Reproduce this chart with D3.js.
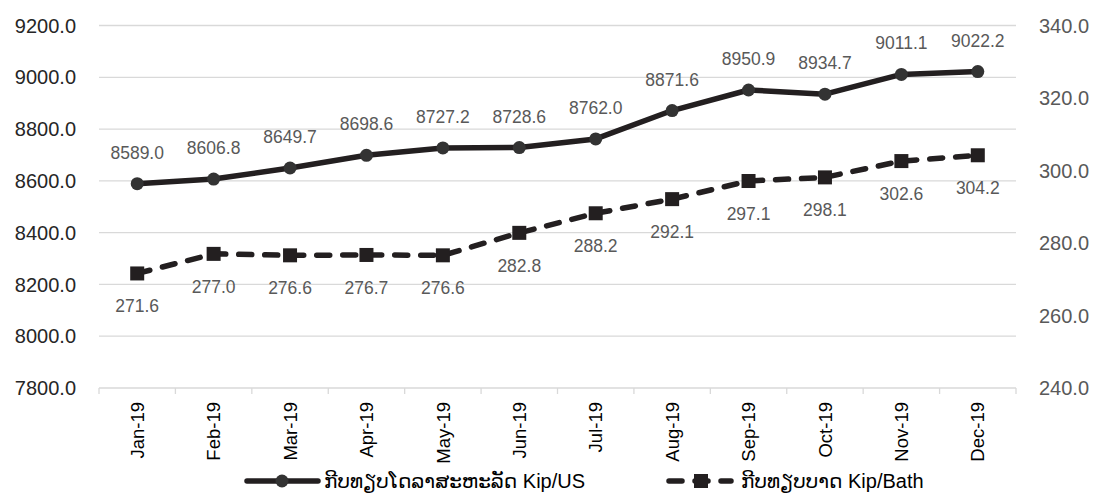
<!DOCTYPE html>
<html lang="lo">
<head>
<meta charset="utf-8">
<script src="https://d3js.org/d3.v7.min.js"></script>
<style>
  body { margin: 0; background: #fff; }
  svg text { font-family: "Liberation Sans", Arial, "DejaVu Sans", sans-serif; }
  .grid line { stroke: #d9d9d9; stroke-width: 1.3; }
</style>
</head>
<body>
<svg id="chart" width="1097" height="495"></svg>
<script>
// data
const months = ["Jan-19","Feb-19","Mar-19","Apr-19","May-19","Jun-19","Jul-19","Aug-19","Sep-19","Oct-19","Nov-19","Dec-19"];
const kipUS = [8589.0, 8606.8, 8649.7, 8698.6, 8727.2, 8728.6, 8762.0, 8871.6, 8950.9, 8934.7, 9011.1, 9022.2];
const kipBath = [271.6, 277.0, 276.6, 276.7, 276.6, 282.8, 288.2, 292.1, 297.1, 298.1, 302.6, 304.2];
const leftTicks = [7800, 8000, 8200, 8400, 8600, 8800, 9000, 9200];
const rightTicks = [240, 260, 280, 300, 320, 340];
const legendNames = ["ກີບທຽບໂດລາສະຫະລັດ Kip/US", "ກີບທຽບບາດ Kip/Bath"];

const svg = d3.select("#chart");
const ink = "#231f20";
const plotL = 99, plotR = 1016, plotT = 25.5, plotB = 388;

const x = d3.scaleBand().domain(months).range([plotL, plotR]);
const yL = d3.scaleLinear().domain([7800, 9200]).range([plotB, plotT]);
const yR = d3.scaleLinear().domain([240, 340]).range([plotB, plotT]);
const cx = d => x(d) + x.bandwidth() / 2;

// gridlines
svg.append("g").attr("class", "grid")
  .selectAll("line").data(leftTicks).enter().append("line")
  .attr("x1", plotL).attr("x2", plotR)
  .attr("y1", d => yL(d)).attr("y2", d => yL(d));

// bottom axis tick marks
const tickX = months.map(m => x(m)).concat([plotR]);
svg.append("g").selectAll("line").data(tickX).enter().append("line")
  .attr("x1", d => d).attr("x2", d => d)
  .attr("y1", plotB).attr("y2", plotB + 6)
  .attr("stroke", "#d9d9d9").attr("stroke-width", 1.3);

// left axis labels
svg.append("g").selectAll("text").data(leftTicks).enter().append("text")
  .attr("x", 76).attr("y", d => yL(d)).attr("dy", "0.36em")
  .attr("text-anchor", "end").attr("font-size", 20).attr("fill", "#262626")
  .text(d => d.toFixed(1));

// right axis labels
svg.append("g").selectAll("text").data(rightTicks).enter().append("text")
  .attr("x", 1039).attr("y", d => yR(d)).attr("dy", "0.36em")
  .attr("text-anchor", "start").attr("font-size", 20).attr("fill", "#595959")
  .text(d => d.toFixed(1));

// x labels
svg.append("g").selectAll("text").data(months).enter().append("text")
  .attr("transform", d => `translate(${cx(d)},${plotB + 14}) rotate(-90)`)
  .attr("dy", "0.36em").attr("text-anchor", "end")
  .attr("font-size", 18.5).attr("fill", "#000")
  .text(d => d);

// Kip/US line
const lineUS = d3.line().x((d, i) => cx(months[i])).y(d => yL(d));
svg.append("path").datum(kipUS)
  .attr("d", lineUS).attr("fill", "none")
  .attr("stroke", ink).attr("stroke-width", 5.5).attr("stroke-linejoin", "round");
svg.append("g").selectAll("circle").data(kipUS).enter().append("circle")
  .attr("cx", (d, i) => cx(months[i])).attr("cy", d => yL(d)).attr("r", 6.5)
  .attr("fill", "#333");

// Kip/Bath line
const lineB = d3.line().x((d, i) => cx(months[i])).y(d => yR(d));
svg.append("path").datum(kipBath)
  .attr("d", lineB).attr("fill", "none")
  .attr("stroke", ink).attr("stroke-width", 5.5)
  .attr("stroke-dasharray", "13,13").attr("stroke-linecap", "round");
svg.append("g").selectAll("rect").data(kipBath).enter().append("rect")
  .attr("x", (d, i) => cx(months[i]) - 7).attr("y", d => yR(d) - 7)
  .attr("width", 14).attr("height", 14).attr("fill", ink);

// data labels
svg.append("g").selectAll("text").data(kipUS).enter().append("text")
  .attr("x", (d, i) => cx(months[i])).attr("y", d => yL(d) - 25)
  .attr("text-anchor", "middle").attr("font-size", 17.5).attr("fill", "#595959")
  .text(d => d.toFixed(1));
svg.append("g").selectAll("text").data(kipBath).enter().append("text")
  .attr("x", (d, i) => cx(months[i])).attr("y", d => yR(d) + 39)
  .attr("text-anchor", "middle").attr("font-size", 17.5).attr("fill", "#595959")
  .text(d => d.toFixed(1));

// legend
const ly = 481;
const lg1 = svg.append("g");
lg1.append("line").attr("x1", 247).attr("x2", 318).attr("y1", ly).attr("y2", ly)
  .attr("stroke", ink).attr("stroke-width", 5.5).attr("stroke-linecap", "round");
lg1.append("circle").attr("cx", 282).attr("cy", ly).attr("r", 6.5).attr("fill", "#333");
lg1.append("text").attr("x", 324).attr("y", ly).attr("dy", "0.36em")
  .attr("font-size", 20).attr("fill", "#000").text(legendNames[0]);

const lg2 = svg.append("g");
lg2.append("line").attr("x1", 669).attr("x2", 731).attr("y1", ly).attr("y2", ly)
  .attr("stroke", ink).attr("stroke-width", 5.5)
  .attr("stroke-dasharray", "13,13").attr("stroke-linecap", "round");
lg2.append("rect").attr("x", 694).attr("y", ly - 7).attr("width", 14).attr("height", 14).attr("fill", ink);
lg2.append("text").attr("x", 741).attr("y", ly).attr("dy", "0.36em")
  .attr("font-size", 20).attr("fill", "#000").text(legendNames[1]);
</script>
</body>
</html>
